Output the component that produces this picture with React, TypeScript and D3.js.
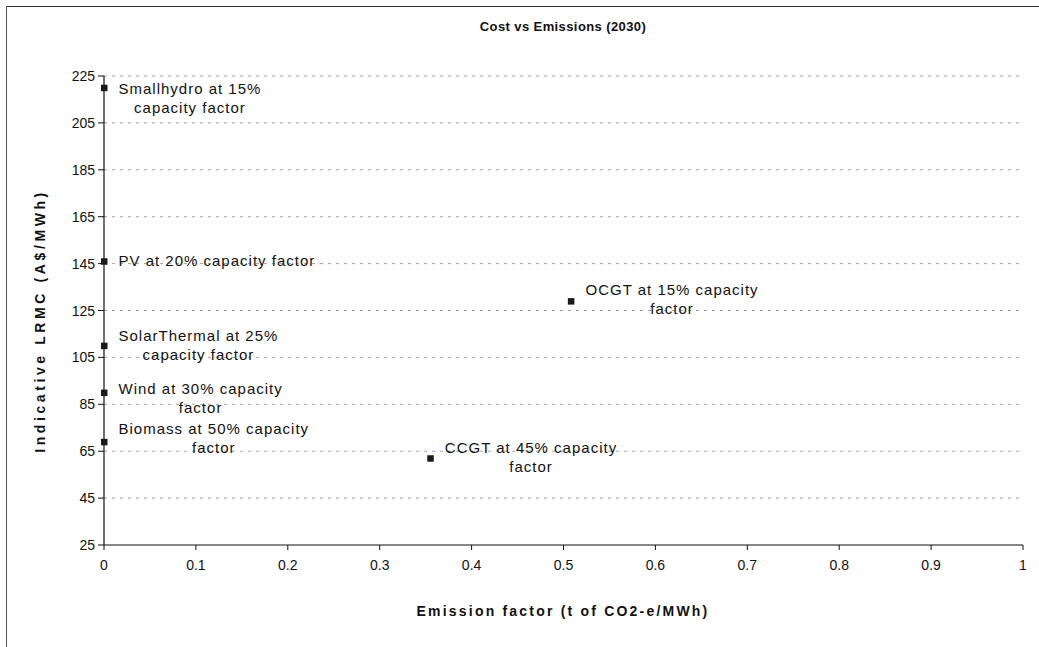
import React from "react";
import * as d3 from "d3";

const names = [
  "Smallhydro at 15%|capacity factor",
  "PV at 20% capacity factor",
  "SolarThermal at 25%|capacity factor",
  "Wind at 30% capacity|factor",
  "Biomass at 50% capacity|factor",
  "CCGT at 45% capacity|factor",
  "OCGT at 15% capacity|factor",
];
const emissions = [0, 0, 0, 0, 0, 0.355, 0.508];
const costs = [220, 146, 110, 90, 69, 62, 129];
const yTicks = [25, 45, 65, 85, 105, 125, 145, 165, 185, 205, 225];
const xTicks = [0, 0.1, 0.2, 0.3, 0.4, 0.5, 0.6, 0.7, 0.8, 0.9, 1];
// vertical nudges of the label blocks (px), as placed in the original
const labelNudge = [11, 0, 0, 6, -3, -1, -2];

const W = 1039;
const H = 647;
const FONT = "Arial, 'Liberation Sans', sans-serif";
const LABEL_SIZE = 15;
const LABEL_SPACING = 1;

function textWidth(s: string, font: string, spacing: number): number {
  const fallback = s.length * 8;
  if (typeof document === "undefined") return fallback;
  const c = document.createElement("canvas");
  const ctx = c.getContext("2d");
  if (!ctx) return fallback;
  ctx.font = font;
  return ctx.measureText(s).width + spacing * (s.length - 1);
}

export default function App() {
  const x = d3.scaleLinear().domain([0, 1]).range([104, 1023]);
  const y = d3.scaleLinear().domain([25, 225]).range([545, 76]);
  const lineH = 19;

  return (
    <svg
      width={W}
      height={H}
      style={{ position: "absolute", left: 0, top: 0, background: "#fff" }}
      fontFamily={FONT}
    >
      <rect x={0} y={0} width={W} height={H} fill="#fff" />
      {/* outer frame */}
      <line x1={6} y1={6.5} x2={W} y2={6.5} stroke="#333" strokeWidth={1.2} />
      <line x1={6.5} y1={6} x2={6.5} y2={H} stroke="#555" strokeWidth={1} />

      {/* title */}
      <text
        x={563}
        y={31}
        textAnchor="middle"
        fontSize={13}
        fontWeight="bold"
        letterSpacing={0.4}
        fill="#111"
      >
        Cost vs Emissions (2030)
      </text>

      {/* grid */}
      {yTicks.filter((t) => t !== 25).map((t) => (
        <line
          key={"g" + t}
          x1={x(0)}
          x2={x(1)}
          y1={y(t)}
          y2={y(t)}
          stroke="#8a8a8a"
          strokeWidth={0.8}
          strokeDasharray="3,5"
        />
      ))}

      {/* axes */}
      <line x1={x(0)} x2={x(0)} y1={y(225)} y2={y(25)} stroke="#111" strokeWidth={1.2} />
      <line x1={x(0)} x2={x(1)} y1={y(25)} y2={y(25)} stroke="#111" strokeWidth={1.2} />
      {yTicks.map((t) => (
        <g key={"yt" + t}>
          <line x1={x(0) - 6} x2={x(0)} y1={y(t)} y2={y(t)} stroke="#111" strokeWidth={1} />
          <text x={x(0) - 9} y={y(t) + 5} textAnchor="end" fontSize={14} fill="#111">
            {t}
          </text>
        </g>
      ))}
      {xTicks.map((t) => (
        <g key={"xt" + t}>
          <line x1={x(t)} x2={x(t)} y1={y(25)} y2={y(25) + 5} stroke="#111" strokeWidth={1} />
          <text x={x(t)} y={y(25) + 25} textAnchor="middle" fontSize={14} fill="#111">
            {d3.format("~g")(t)}
          </text>
        </g>
      ))}

      {/* axis titles */}
      <text
        transform={`translate(45,321) rotate(-90)`}
        textAnchor="middle"
        fontSize={14}
        fontWeight="bold"
        letterSpacing={3.6}
        fill="#111"
      >
        Indicative LRMC (A$/MWh)
      </text>
      <text
        x={563}
        y={616}
        textAnchor="middle"
        fontSize={14}
        fontWeight="bold"
        letterSpacing={2.2}
        fill="#111"
      >
        Emission factor (t of CO2-e/MWh)
      </text>

      {/* points and labels */}
      {names.map((n, i) => {
        const px = x(emissions[i]);
        const py = y(costs[i]);
        const lines = n.split("|");
        const maxW = Math.max(
          ...lines.map((l) => textWidth(l, `${LABEL_SIZE}px ${FONT}`, LABEL_SPACING))
        );
        const cx = px + 15 + maxW / 2;
        const blockTop = py + labelNudge[i] - ((lines.length - 1) * lineH) / 2;
        return (
          <g key={n}>
            <rect x={px - 3} y={py - 3} width={6.5} height={6.5} fill="#1a1a1a" />
            {lines.map((l, j) => (
              <text
                key={j}
                x={cx}
                y={blockTop + j * lineH + 5}
                textAnchor="middle"
                fontSize={LABEL_SIZE}
                letterSpacing={LABEL_SPACING}
                fill="#111"
              >
                {l}
              </text>
            ))}
          </g>
        );
      })}
    </svg>
  );
}
